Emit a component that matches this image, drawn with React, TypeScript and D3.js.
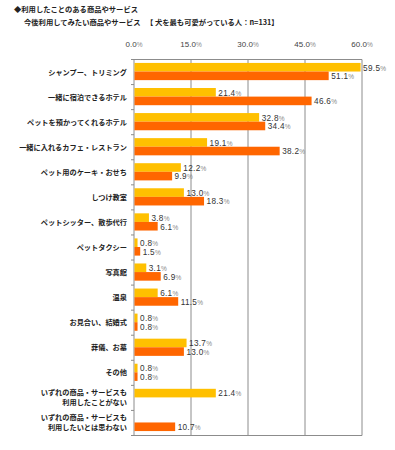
import React, { useEffect, useRef } from "react";
import * as d3 from "d3";

// categories (two-line labels use "\n")
const categories = [
  "シャンプー、トリミング",
  "一緒に宿泊できるホテル",
  "ペットを預かってくれるホテル",
  "一緒に入れるカフェ・レストラン",
  "ペット用のケーキ・おせち",
  "しつけ教室",
  "ペットシッター、散歩代行",
  "ペットタクシー",
  "写真館",
  "温泉",
  "お見合い、結婚式",
  "葬儀、お墓",
  "その他",
  "いずれの商品・サービスも\n利用したことがない",
  "いずれの商品・サービスも\n利用したいとは思わない",
];
const usedValues = [59.5, 21.4, 32.8, 19.1, 12.2, 13.0, 3.8, 0.8, 3.1, 6.1, 0.8, 13.7, 0.8, 21.4, null];
const wantValues = [51.1, 46.6, 34.4, 38.2, 9.9, 18.3, 6.1, 1.5, 6.9, 11.5, 0.8, 13.0, 0.8, null, 10.7];
const xTicks = [0, 15, 30, 45, 60];

const titleLine1 = "◆利用したことのある商品やサービス";
const titleLine2 = "今後利用してみたい商品やサービス";
const titleNote = "【 犬を最も可愛がっている人：n=131】";

const colorUsed = "#FFC000";
const colorWant = "#FF6600";

const JP = "'Noto Sans CJK JP', sans-serif";
const NUM = "'Liberation Sans', Arial, sans-serif";

export default function App() {
  const ref = useRef<SVGSVGElement>(null);

  useEffect(() => {
    const svg = d3.select(ref.current);
    svg.selectAll("*").remove();

    const left = 134, right = 362, top = 59.5, bottom = 435.5;

    const x = d3.scaleLinear().domain([0, 60]).range([left, right]);
    const y = d3.scaleBand<number>().domain(d3.range(categories.length)).range([top, bottom]);
    const bandH = y.bandwidth();
    const barH = 8.6;

    // title
    const tt = svg.append("g").attr("font-family", JP).attr("font-size", 7.3)
      .attr("font-weight", 700).attr("fill", "#222");
    tt.append("text").attr("x", 14).attr("y", 12).text(titleLine1);
    tt.append("text").attr("x", 24).attr("y", 25).text(titleLine2);
    tt.append("text").attr("x", 146).attr("y", 25).text(titleNote);

    // gridlines + frame
    const g = svg.append("g");
    g.selectAll("line.grid").data(xTicks).join("line")
      .attr("x1", d => x(d)).attr("x2", d => x(d))
      .attr("y1", top).attr("y2", bottom)
      .attr("stroke", "#8c8c8c").attr("stroke-width", 1);
    g.append("line").attr("x1", left).attr("x2", right).attr("y1", top).attr("y2", top)
      .attr("stroke", "#8c8c8c");
    g.append("line").attr("x1", left).attr("x2", right).attr("y1", bottom).attr("y2", bottom)
      .attr("stroke", "#8c8c8c");

    // tick labels
    const tl = svg.append("g").attr("font-family", NUM).attr("font-size", 8);
    xTicks.forEach(t => {
      const txt = tl.append("text").attr("x", x(t)).attr("y", 47).attr("text-anchor", "middle").attr("fill", "#444");
      txt.append("tspan").text(t.toFixed(1));
      txt.append("tspan").attr("font-size", 6.5).attr("fill", "#888").text("%");
    });

    // left tick marks at band boundaries
    d3.range(categories.length + 1).forEach(i => {
      const yy = top + i * bandH;
      g.append("line").attr("x1", left - 3).attr("x2", left).attr("y1", yy).attr("y2", yy).attr("stroke", "#8c8c8c");
    });

    // category labels
    const cl = svg.append("g").attr("font-family", JP).attr("font-size", 7.2).attr("font-weight", 700).attr("fill", "#222");
    categories.forEach((c, i) => {
      const lines = c.split("\n");
      const cy = (y(i) as number) + bandH / 2;
      lines.forEach((ln, j) => {
        cl.append("text").attr("x", 127).attr("y", cy + (j - (lines.length - 1) / 2) * 10 + 2.5)
          .attr("text-anchor", "end").text(ln);
      });
    });

    // bars
    const series = [
      { vals: usedValues, color: colorUsed, off: -barH },
      { vals: wantValues, color: colorWant, off: 0 },
    ];
    series.forEach(s => {
      s.vals.forEach((v, i) => {
        if (v == null) return;
        const by = (y(i) as number) + bandH / 2 - 0.5 + s.off;
        svg.append("rect").attr("x", x(0) + 0.5).attr("y", by)
          .attr("width", x(v) - x(0)).attr("height", barH).attr("fill", s.color);
        const t = svg.append("text").attr("x", x(v) + 3).attr("y", by + barH - 1)
          .attr("font-family", NUM).attr("font-size", 8.2).attr("fill", "#333").attr("letter-spacing", 0.3);
        t.append("tspan").text(v.toFixed(1));
        t.append("tspan").attr("font-size", 6.5).attr("fill", "#888").text("%");
      });
    });
  }, []);

  return (
    <svg ref={ref} width={395} height={450}
      style={{ position: "absolute", left: 0, top: 0, background: "#fff" }} />
  );
}
